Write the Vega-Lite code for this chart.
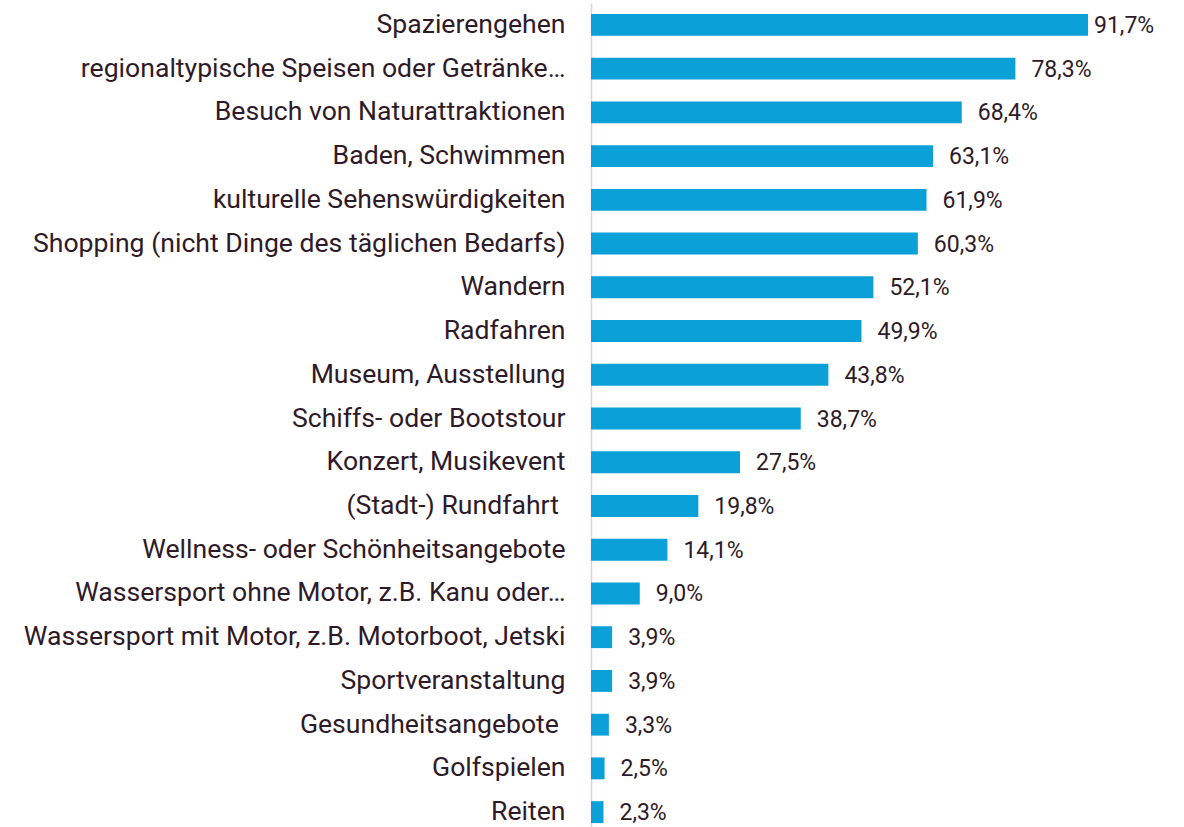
{
  "$schema": "https://vega.github.io/schema/vega-lite/v6.json",
  "autosize": "none",
  "width": 542,
  "height": 831,
  "padding": {"left": 591, "top": 3, "right": 51, "bottom": 0},
  "background": "white",
  "config": {"view": {"stroke": null}, "font": "Roboto"},
  "data": {"values": [
    {"label": "Spazierengehen", "value": 91.7},
    {"label": "regionaltypische Speisen oder Getränke…", "value": 78.3},
    {"label": "Besuch von Naturattraktionen", "value": 68.4},
    {"label": "Baden, Schwimmen", "value": 63.1},
    {"label": "kulturelle Sehenswürdigkeiten", "value": 61.9},
    {"label": "Shopping (nicht Dinge des täglichen Bedarfs)", "value": 60.3},
    {"label": "Wandern", "value": 52.1},
    {"label": "Radfahren", "value": 49.9},
    {"label": "Museum, Ausstellung", "value": 43.8},
    {"label": "Schiffs- oder Bootstour", "value": 38.7},
    {"label": "Konzert, Musikevent", "value": 27.5},
    {"label": "(Stadt-) Rundfahrt \u200b", "value": 19.8},
    {"label": "Wellness- oder Schönheitsangebote", "value": 14.1},
    {"label": "Wassersport ohne Motor, z.B. Kanu oder…", "value": 9.0},
    {"label": "Wassersport mit Motor, z.B. Motorboot, Jetski", "value": 3.9},
    {"label": "Sportveranstaltung", "value": 3.9},
    {"label": "Gesundheitsangebote \u200b", "value": 3.3},
    {"label": "Golfspielen", "value": 2.5},
    {"label": "Reiten", "value": 2.3}
  ]},
  "encoding": {
    "y": {"field": "label", "type": "nominal", "sort": null,
      "scale": {"paddingInner": 0.5, "paddingOuter": 0.25},
      "axis": {"title": null, "ticks": false, "domainColor": "#f4c6dc", "domainWidth": 1.5,
        "labelFontSize": 26.6, "labelColor": "#2e1a28", "labelPadding": 26, "labelLimit": 700, "labelFont": "Roboto"}},
    "x": {"field": "value", "type": "quantitative", "scale": {"domain": [0, 100]}, "axis": null}
  },
  "layer": [
    {"mark": {"type": "bar", "color": "#0ba1d8"}},
    {"transform": [{"filter": "datum.value < 90"}],
     "mark": {"type": "text", "align": "left", "baseline": "middle", "dx": 16, "dy": 1, "fontSize": 23, "color": "#2e1a28", "font": "Roboto",
       "text": {"expr": "replace(format(datum.value, '.1f'), '.', ',') + '%'"}}},
    {"transform": [{"filter": "datum.value >= 90"}],
     "mark": {"type": "text", "align": "left", "baseline": "middle", "dx": 6, "dy": 1, "fontSize": 23, "color": "#2e1a28", "font": "Roboto",
       "text": {"expr": "replace(format(datum.value, '.1f'), '.', ',') + '%'"}}}
  ]
}
